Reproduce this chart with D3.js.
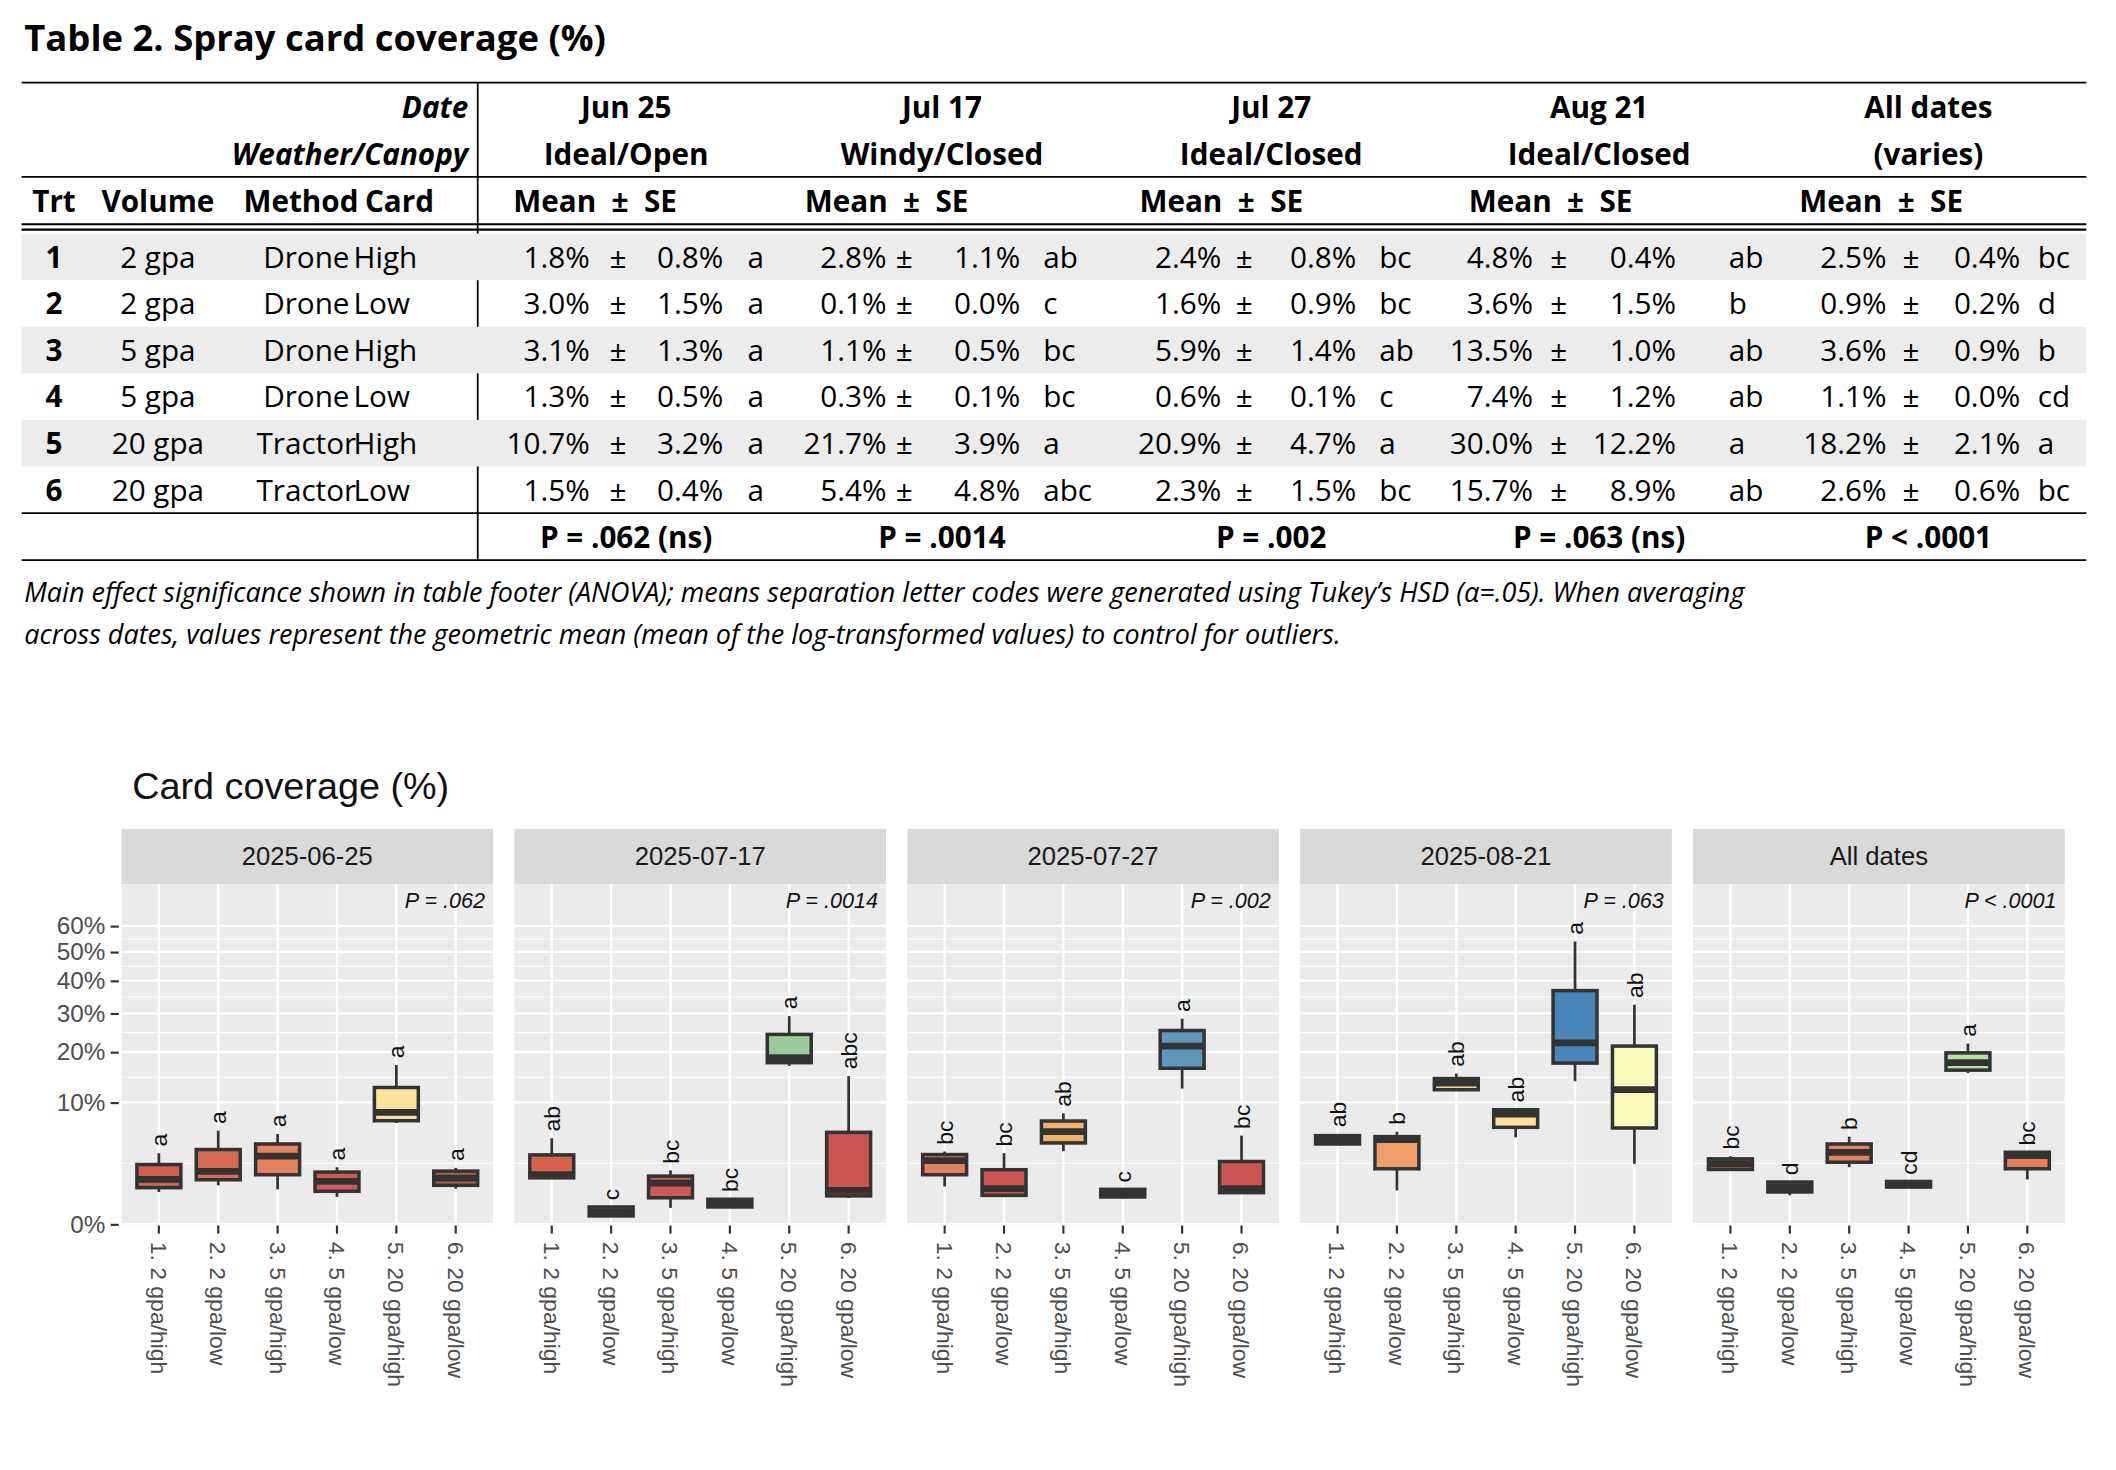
<!DOCTYPE html>
<html>
<head>
<meta charset="utf-8">
<script src="https://cdn.jsdelivr.net/npm/d3@7"></script>
<style>
  body { margin: 0; background: #fff; }
  text { font-family: "Liberation Sans", Arial, sans-serif; }
  .tbl { font-family: "Open Sans", "Noto Sans", sans-serif; font-size: 22px; fill: #000; }
</style>
</head>
<body>
<svg id="chart" width="2116" height="1470" viewBox="0 0 1568 1089"></svg>
<script>
// ---- table data ----
const trt = [1, 2, 3, 4, 5, 6];
const volume = ['2 gpa', '2 gpa', '5 gpa', '5 gpa', '20 gpa', '20 gpa'];
const method = ['Drone', 'Drone', 'Drone', 'Drone', 'Tractor', 'Tractor'];
const card = ['High', 'Low', 'High', 'Low', 'High', 'Low'];
const dates = ['Jun 25', 'Jul 17', 'Jul 27', 'Aug 21', 'All dates'];
const weather = ['Ideal/Open', 'Windy/Closed', 'Ideal/Closed', 'Ideal/Closed', '(varies)'];
const means = [
  ['1.8%', '3.0%', '3.1%', '1.3%', '10.7%', '1.5%'],
  ['2.8%', '0.1%', '1.1%', '0.3%', '21.7%', '5.4%'],
  ['2.4%', '1.6%', '5.9%', '0.6%', '20.9%', '2.3%'],
  ['4.8%', '3.6%', '13.5%', '7.4%', '30.0%', '15.7%'],
  ['2.5%', '0.9%', '3.6%', '1.1%', '18.2%', '2.6%']
];
const ses = [
  ['0.8%', '1.5%', '1.3%', '0.5%', '3.2%', '0.4%'],
  ['1.1%', '0.0%', '0.5%', '0.1%', '3.9%', '4.8%'],
  ['0.8%', '0.9%', '1.4%', '0.1%', '4.7%', '1.5%'],
  ['0.4%', '1.5%', '1.0%', '1.2%', '12.2%', '8.9%'],
  ['0.4%', '0.2%', '0.9%', '0.0%', '2.1%', '0.6%']
];
const letters = [
  ['a', 'a', 'a', 'a', 'a', 'a'],
  ['ab', 'c', 'bc', 'bc', 'a', 'abc'],
  ['bc', 'bc', 'ab', 'c', 'a', 'bc'],
  ['ab', 'b', 'ab', 'ab', 'a', 'ab'],
  ['bc', 'd', 'b', 'cd', 'a', 'bc']
];
const pTable = ['P = .062 (ns)', 'P = .0014', 'P = .002', 'P = .063 (ns)', 'P < .0001'];

// ---- chart data ----
const panels = ['2025-06-25', '2025-07-17', '2025-07-27', '2025-08-21', 'All dates'];
const pChart = ['= .062', '= .0014', '= .002', '= .063', '< .0001'];
const groups = ['1. 2 gpa/high', '2. 2 gpa/low', '3. 5 gpa/high', '4. 5 gpa/low', '5. 20 gpa/high', '6. 20 gpa/low'];
// [low, q1, median, q3, high] in %
const boxes = [
  [[0.70, 0.90, 1.35, 2.40, 3.40], [1.02, 1.33, 1.88, 3.76, 5.90], [0.82, 1.65, 3.12, 4.34, 5.49],
   [0.50, 0.73, 1.23, 1.83, 2.19], [6.90, 7.22, 8.43, 12.6, 17.1], [0.85, 1.02, 1.43, 1.90, 2.14]],
  [[1.45, 1.45, 1.65, 3.24, 4.98], [0.036, 0.046, 0.10, 0.20, 0.20], [0.18, 0.47, 1.14, 1.56, 1.95],
   [0.20, 0.20, 0.31, 0.42, 0.44], [16.9, 17.6, 18.7, 24.3, 29.2], [0.46, 0.54, 0.77, 5.69, 14.8]],
  [[0.96, 1.65, 2.73, 3.27, 3.56], [0.50, 0.56, 0.85, 2.00, 3.40], [3.59, 4.45, 5.78, 7.18, 8.28],
   [0.44, 0.50, 0.63, 0.82, 0.82], [12.4, 16.4, 21.4, 25.3, 28.5], [0.67, 0.67, 0.85, 2.65, 5.29]],
  [[4.24, 4.34, 4.82, 5.29, 5.49], [0.77, 2.07, 4.82, 5.17, 5.78], [12.2, 12.2, 13.4, 14.3, 15.3],
   [5.09, 6.33, 8.18, 8.83, 8.93], [13.8, 17.5, 22.2, 36.8, 53.9], [2.46, 6.24, 12.2, 21.4, 32.5]],
  [[1.95, 2.02, 2.46, 2.88, 3.12], [0.56, 0.70, 0.93, 1.20, 1.20], [2.19, 2.59, 3.49, 4.34, 5.17],
   [0.93, 0.93, 1.07, 1.23, 1.23], [15.4, 16.0, 17.6, 19.8, 22.0], [1.35, 2.07, 3.18, 3.49, 3.49]]
];
const fills = [
  ['#d35f4f', '#d86a55', '#e6825e', '#d35a50', '#fae49b', '#b85a4f'],
  ['#d8604f', '#c44a48', '#d05a52', '#c94c4c', '#9ccb9d', '#cd5353'],
  ['#e67f5c', '#cd5454', '#f4b36b', '#c94c4c', '#6096b7', '#cd5454'],
  ['#d96c54', '#ef9e68', '#f6e4a0', '#fbe29a', '#4885ba', '#fafabb'],
  ['#d55d50', '#c94c4c', '#e67f5c', '#c94c4c', '#b9de9a', '#e67f5c']
];
const yTicks = [0, 10, 20, 30, 40, 50, 60];

const svg = d3.select('#chart');

// ===== table =====
svg.append('text').attr('x', 18).attr('y', 38).attr('class', 'tbl')
  .style('font-size', '27px').style('font-weight', 'bold').text('Table 2. Spray card coverage (%)');

const hline = (y, x1, x2, w) => svg.append('line').attr('x1', x1).attr('x2', x2)
  .attr('y1', y).attr('y2', y).attr('stroke', '#000').attr('stroke-width', w || 1.3);
hline(61, 16, 1546);
hline(131, 16, 1546);
hline(166, 16, 1546, 1.6);
hline(170, 16, 1546, 1.6);
hline(380, 16, 1546);
hline(415, 16, 1546);
svg.append('line').attr('x1', 354).attr('x2', 354).attr('y1', 61).attr('y2', 415)
  .attr('stroke', '#000').attr('stroke-width', 1.3);

const rowY = d3.scaleBand().domain(trt).range([173, 380]);
svg.selectAll('rect.shade').data(trt.filter(d => d % 2 === 1)).join('rect')
  .attr('x', 16).attr('width', 1530).attr('y', d => rowY(d)).attr('height', rowY.bandwidth())
  .attr('fill', '#ececec');

const tt = (x, y, s, anchor, extra) => {
  const t = svg.append('text').attr('class', 'tbl').attr('x', x).attr('y', y)
    .attr('text-anchor', anchor || 'middle').text(s);
  if (extra) extra(t);
  return t;
};
const bold = t => t.style('font-weight', 'bold');
tt(347, 87, 'Date', 'end', t => bold(t).style('font-style', 'italic'));
tt(347, 122, 'Weather/Canopy', 'end', t => bold(t).style('font-style', 'italic'));
tt(40, 157, 'Trt', 'middle', bold);
tt(117, 157, 'Volume', 'middle', bold);
tt(223, 157, 'Method', 'middle', bold);
tt(296, 157, 'Card', 'middle', bold);

const grpCenter = [464, 698, 942, 1185, 1429];
const meanHdr = [441, 657, 905, 1149, 1394];
const meanR = [437, 657, 905, 1136, 1398];
const pmX = [458, 670, 922, 1155, 1416];
const seR = [536, 756, 1005, 1242, 1497];
const letX = [554, 773, 1022, 1281, 1510];

dates.forEach((d, g) => {
  tt(grpCenter[g], 87, d, 'middle', bold);
  tt(grpCenter[g], 122, weather[g], 'middle', bold);
  tt(meanHdr[g], 157, 'Mean  ±  SE', 'middle', t => bold(t).style('white-space', 'pre'));
  tt(grpCenter[g], 406, pTable[g], 'middle', bold);
});

trt.forEach((r, i) => {
  const yy = rowY(r) + rowY.bandwidth() / 2 + 8;
  tt(40, yy, r, 'middle', bold);
  tt(117, yy, volume[i]);
  tt(227, yy, method[i]);
  tt(262, yy, card[i], 'start');
  dates.forEach((d, g) => {
    tt(meanR[g], yy, means[g][i], 'end');
    tt(pmX[g], yy, '±');
    tt(seR[g], yy, ses[g][i], 'end');
    tt(letX[g], yy, letters[g][i], 'start');
  });
});

tt(18, 446, 'Main effect significance shown in table footer (ANOVA); means separation letter codes were generated using Tukey’s HSD (α=.05). When averaging', 'start',
  t => t.style('font-style', 'italic').style('font-size', '20px'));
tt(18, 477, 'across dates, values represent the geometric mean (mean of the log-transformed values) to control for outliers.', 'start',
  t => t.style('font-style', 'italic').style('font-size', '20px'));

// ===== chart =====
svg.append('text').attr('x', 98).attr('y', 592).style('font-size', '28px').attr('fill', '#111')
  .text('Card coverage (%)');

const plotTop = 655, plotBottom = 907, stripTop = 614;
const y = d3.scaleSqrt().domain([0, 78]).range([plotBottom, plotTop]);
const px = d3.scaleBand().domain(panels).range([90, 1530]).paddingInner(0.054).paddingOuter(0);
const minorTicks = yTicks.slice(1).map((t, i) => Math.pow((Math.sqrt(t) + Math.sqrt(yTicks[i])) / 2, 2));

// y axis
const yAxis = d3.axisLeft(y).tickValues(yTicks).tickFormat(d => d + '%').tickSize(6).tickPadding(4);
const ya = svg.append('g').attr('transform', `translate(${px(panels[0]) - 2},0)`).call(yAxis);
ya.select('.domain').remove();
ya.selectAll('line').attr('stroke', '#333').attr('stroke-width', 1.6);
ya.selectAll('text').style('font-size', '18px').attr('fill', '#4d4d4d');

panels.forEach((p, pi) => {
  const x0 = px(p), w = px.bandwidth();
  const g = svg.append('g');
  g.append('rect').attr('x', x0).attr('y', stripTop).attr('width', w).attr('height', plotTop - stripTop).attr('fill', '#d9d9d9');
  g.append('text').attr('x', x0 + w / 2).attr('y', 641).attr('text-anchor', 'middle')
    .style('font-size', '19px').attr('fill', '#1a1a1a').text(p);
  g.append('rect').attr('x', x0).attr('y', plotTop).attr('width', w).attr('height', plotBottom - plotTop + 1).attr('fill', '#ebebeb');

  const x = d3.scaleBand().domain(groups).range([x0, x0 + w]).padding(0.26);
  const cx = d => x(d) + x.bandwidth() / 2;

  g.selectAll('line.minor').data(minorTicks).join('line')
    .attr('x1', x0).attr('x2', x0 + w).attr('y1', d => y(d)).attr('y2', d => y(d))
    .attr('stroke', '#fff').attr('stroke-width', 0.8);
  g.selectAll('line.major').data(yTicks).join('line')
    .attr('x1', x0).attr('x2', x0 + w).attr('y1', d => y(d)).attr('y2', d => y(d))
    .attr('stroke', '#fff').attr('stroke-width', 1.7);
  g.selectAll('line.vgrid').data(groups).join('line')
    .attr('x1', cx).attr('x2', cx).attr('y1', plotTop).attr('y2', plotBottom)
    .attr('stroke', '#fff').attr('stroke-width', 1.7);

  const pt = g.append('text').attr('x', x0 + w - 6).attr('y', 673).attr('text-anchor', 'end')
    .style('font-size', '16px').style('font-style', 'italic').attr('fill', '#111');
  pt.append('tspan').text('P ');
  pt.append('tspan').text(pChart[pi]);

  const data = boxes[pi];
  groups.forEach((gr, i) => {
    const [lo, q1, md, q3, hi] = data[i];
    const c = cx(gr), bw = x.bandwidth();
    g.append('line').attr('x1', c).attr('x2', c).attr('y1', y(hi)).attr('y2', y(lo))
      .attr('stroke', '#333').attr('stroke-width', 2);
    g.append('rect').attr('x', x(gr)).attr('width', bw).attr('y', y(q3))
      .attr('height', Math.max(y(q1) - y(q3), 0.5)).attr('fill', fills[pi][i])
      .attr('stroke', '#333').attr('stroke-width', 2.6);
    g.append('line').attr('x1', x(gr)).attr('x2', x(gr) + bw).attr('y1', y(md)).attr('y2', y(md))
      .attr('stroke', '#333').attr('stroke-width', 5);
    g.append('text').attr('transform', `translate(${c + 6},${y(hi) - 5}) rotate(-90)`)
      .style('font-size', '17px').attr('fill', '#111').text(letters[pi][i]);
  });

  // x axis
  const xa = svg.append('g').attr('transform', `translate(0,${plotBottom + 1})`)
    .call(d3.axisBottom(x).tickSize(6).tickPadding(0));
  xa.select('.domain').remove();
  xa.selectAll('line').attr('stroke', '#333').attr('stroke-width', 1.6);
  xa.selectAll('text').attr('text-anchor', 'start').attr('dy', 0)
    .attr('transform', 'translate(-6,12) rotate(90)')
    .attr('x', 0).attr('y', 0)
    .style('font-size', '17px').attr('fill', '#4d4d4d');
});
</script>
</body>
</html>
